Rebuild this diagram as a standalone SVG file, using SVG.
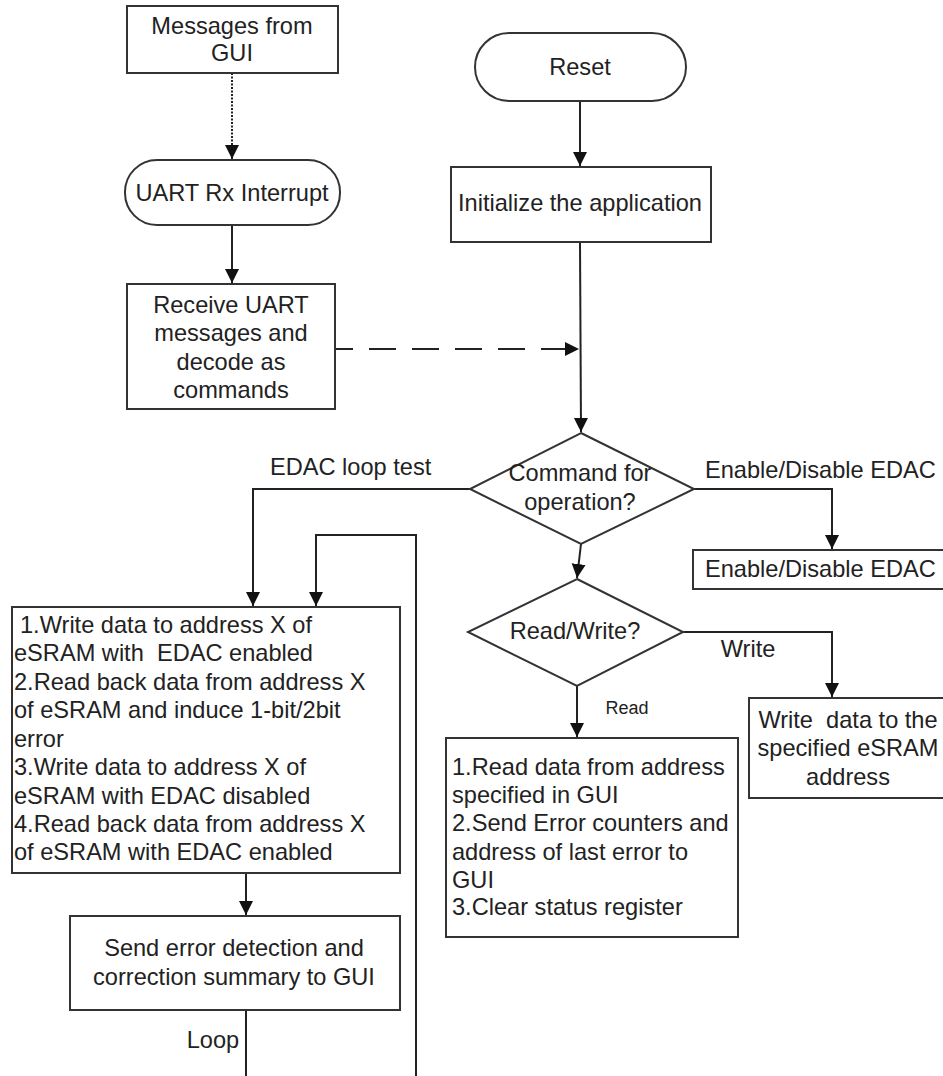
<svg xmlns="http://www.w3.org/2000/svg" width="943" height="1076" viewBox="0 0 943 1076">
<style>
.b{fill:#fff;stroke:#333;stroke-width:2}
.t{font-family:"Liberation Sans",Arial,sans-serif;font-size:23.6px;fill:#222}
.m{text-anchor:middle}
.c{fill:none;stroke:#222;stroke-width:2}
</style>
<defs>
<marker id="ah" markerUnits="userSpaceOnUse" markerWidth="14" markerHeight="16" viewBox="0 0 14 16" refX="14" refY="7" orient="auto">
<path d="M0,0 L14,7 L0,14 Z" fill="#111"/>
</marker>
</defs>
<g id="connectors">
<line class="c" x1="232" y1="73" x2="232" y2="159" stroke-dasharray="2,1.5" stroke="#555" marker-end="url(#ah)"/>
<line class="c" x1="232" y1="225" x2="232" y2="283" marker-end="url(#ah)"/>
<line class="c" x1="580" y1="101" x2="580" y2="166" marker-end="url(#ah)"/>
<line class="c" x1="580" y1="242" x2="581" y2="432" marker-end="url(#ah)"/>
<line class="c" x1="335" y1="349" x2="579" y2="349" stroke-dasharray="18,16,27,16,27,16,27,16,27,16,27,16" marker-end="url(#ah)"/>
<polyline class="c" points="470,489 253,489 253,606" marker-end="url(#ah)"/>
<polyline class="c" points="694,489 832,489 832,549" marker-end="url(#ah)"/>
<line class="c" x1="581" y1="544" x2="577" y2="578" marker-end="url(#ah)"/>
<polyline class="c" points="683,632 832,632 832,697" marker-end="url(#ah)"/>
<line class="c" x1="577" y1="686" x2="577" y2="737" marker-end="url(#ah)"/>
<line class="c" x1="246" y1="873" x2="246" y2="915" marker-end="url(#ah)"/>
<line class="c" x1="246" y1="1010" x2="246" y2="1076"/>
<polyline class="c" points="416,1076 416,535 316,535 316,606" marker-end="url(#ah)"/>
<text class="t" x="270" y="475">EDAC loop test</text>
<text class="t" x="705" y="478">Enable/Disable EDAC</text>
<text class="t m" x="748" y="657">Write</text>
<text class="t m" x="627" y="714" style="font-size:18px">Read</text>
<text class="t m" x="213" y="1048">Loop</text>
</g>
<g id="msg">
<rect class="b" x="127" y="6" width="211" height="67"/>
<text class="t m" x="232" y="34">Messages from</text>
<text class="t m" x="232" y="61">GUI</text>
</g>
<g id="uart">
<rect class="b" x="125" y="160" width="215" height="65" rx="32" ry="32"/>
<text class="t m" x="232" y="201">UART Rx Interrupt</text>
</g>
<g id="receive">
<rect class="b" x="127" y="284" width="208" height="125"/>
<text class="t m" x="231" y="313">Receive UART</text>
<text class="t m" x="231" y="341">messages and</text>
<text class="t m" x="231" y="370">decode as</text>
<text class="t m" x="231" y="398">commands</text>
</g>
<g id="reset">
<rect class="b" x="475" y="33" width="211" height="68" rx="34" ry="34"/>
<text class="t m" x="580" y="75">Reset</text>
</g>
<g id="init">
<rect class="b" x="451" y="167" width="260" height="75"/>
<text class="t m" x="580" y="211">Initialize the application</text>
</g>
<g id="command">
<polygon class="b" points="581,433 694,489 581,544 470,489"/>
<text class="t m" x="580" y="481">Command for</text>
<text class="t m" x="580" y="510">operation?</text>
</g>
<g id="enable">
<rect class="b" x="693" y="550" width="255" height="39"/>
<text class="t" x="705" y="577">Enable/Disable EDAC</text>
</g>
<g id="rw">
<polygon class="b" points="577,579 683,632 577,686 468,632"/>
<text class="t m" x="575" y="639">Read/Write?</text>
</g>
<g id="write">
<rect class="b" x="749" y="698" width="200" height="100"/>
<text class="t m" x="848" y="728" xml:space="preserve">Write  data to the</text>
<text class="t m" x="848" y="756">specified eSRAM</text>
<text class="t m" x="848" y="785">address</text>
</g>
<g id="read">
<rect class="b" x="446" y="738" width="292" height="199"/>
<text class="t" x="452" y="775">1.Read data from address</text>
<text class="t" x="452" y="803">specified in GUI</text>
<text class="t" x="452" y="831">2.Send Error counters and</text>
<text class="t" x="452" y="860">address of last error to</text>
<text class="t" x="452" y="888">GUI</text>
<text class="t" x="452" y="915">3.Clear status register</text>
</g>
<g id="loop">
<rect class="b" x="12" y="607" width="388" height="266"/>
<text class="t" x="20" y="633">1.Write data to address X of</text>
<text class="t" x="14" y="661" xml:space="preserve">eSRAM with  EDAC enabled</text>
<text class="t" x="14" y="690">2.Read back data from address X</text>
<text class="t" x="14" y="718">of eSRAM and induce 1-bit/2bit</text>
<text class="t" x="14" y="747">error</text>
<text class="t" x="14" y="775">3.Write data to address X of</text>
<text class="t" x="14" y="804">eSRAM with EDAC disabled</text>
<text class="t" x="14" y="832">4.Read back data from address X</text>
<text class="t" x="14" y="860">of eSRAM with EDAC enabled</text>
</g>
<g id="summary">
<rect class="b" x="70" y="916" width="330" height="94"/>
<text class="t m" x="234" y="956">Send error detection and</text>
<text class="t m" x="234" y="985">correction summary to GUI</text>
</g>
</svg>
